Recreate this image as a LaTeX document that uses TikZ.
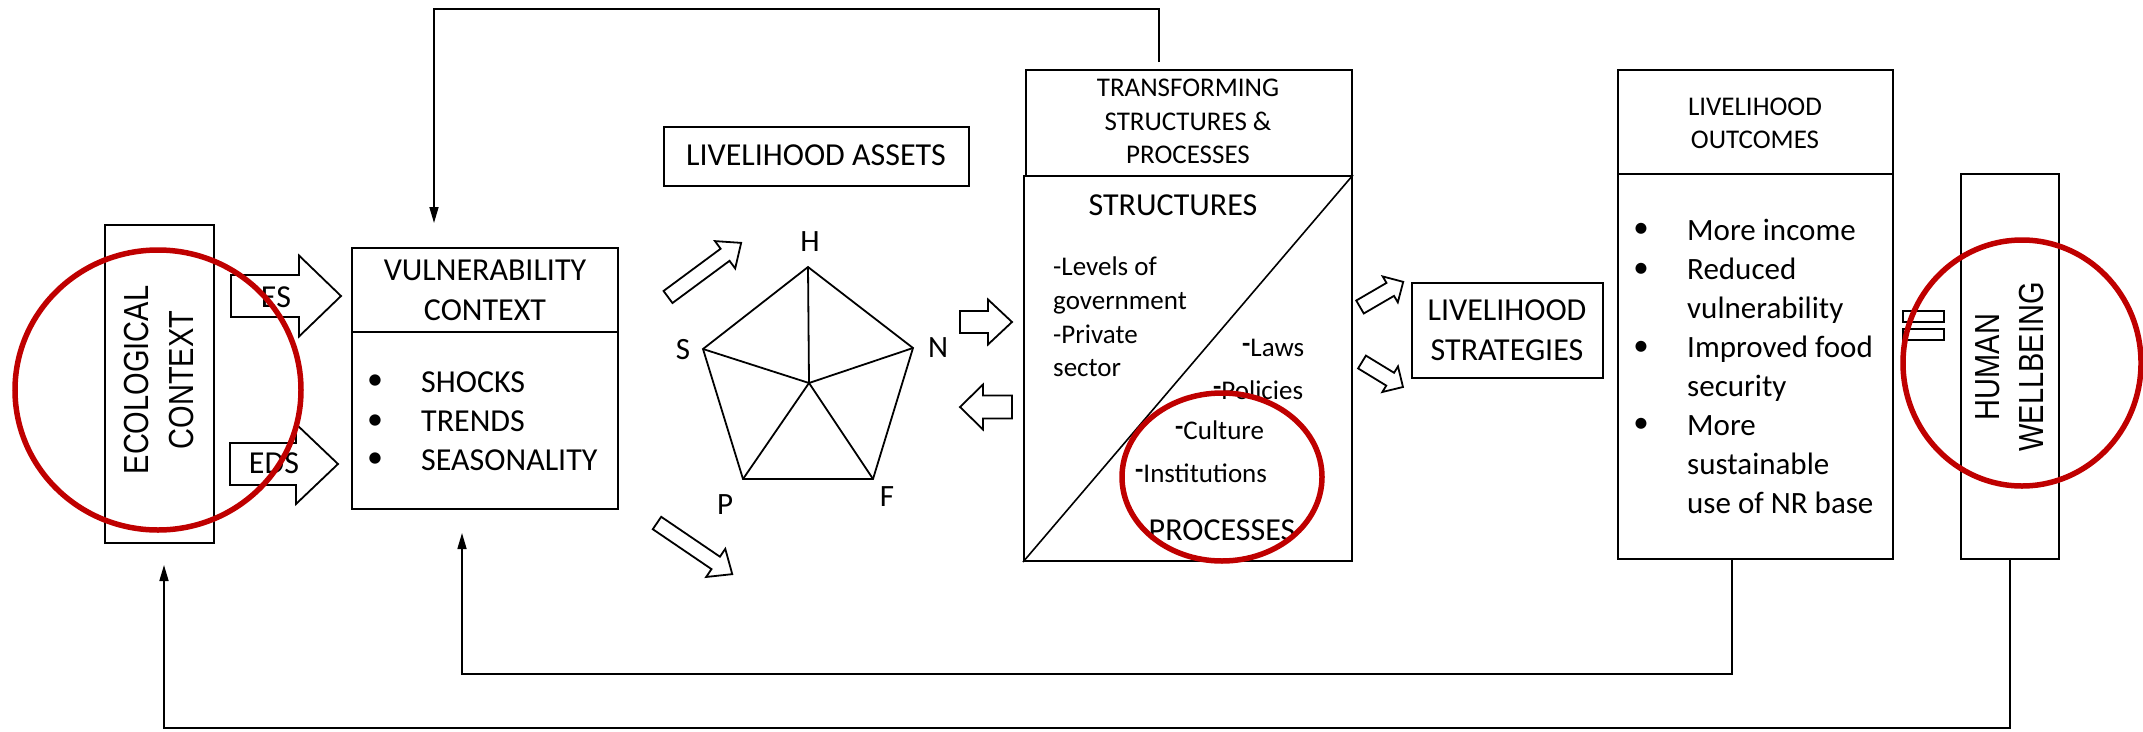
\documentclass[tikz,border=0pt]{standalone}
\usepackage{fontspec}
\setmainfont{Carlito}
\newfontfamily\arialf{Liberation Sans}
\usetikzlibrary{arrows.meta}
\newcommand\fsz[2]{\fontsize{#1}{#2}\selectfont}
\newcommand\hdash{\raisebox{4pt}{\textbf{-}}}
\tikzset{
  box/.style={draw, line width=2pt, inner sep=0pt},
  lbl/.style={inner sep=0pt},
  thinline/.style={line width=1.6pt},
  fb/.style={line width=1.6pt, -{Triangle[length=16pt,width=9pt]}},
  barrow/.style={draw, line width=1.8pt, fill=white, line join=miter},
  redring/.style={draw=red!75!black, line width=5.5pt},
  pics/blockarrow/.style n args={4}{code={
    \path[barrow] (0,-#2)--({#1-#4},-#2)--({#1-#4},-#3)--(#1,0)--({#1-#4},#3)--({#1-#4},#2)--(0,#2)--cycle;}}
}
\begin{document}
\begin{tikzpicture}[x=1pt,y=-1pt]
\useasboundingbox (0,0) rectangle (2143,731);

% boxes
\node[box, minimum width=109pt, minimum height=318pt] (eco) at (159.5,384) {};
\node[box, minimum width=266pt, minimum height=261pt] (vc) at (485,378.5) {};
\draw[line width=2pt] (352,332) -- (618,332);
\node[box, minimum width=305pt, minimum height=59pt] (la) at (816.5,156.5) {};
\node[box, minimum width=326pt, minimum height=106pt] (tspt) at (1189,123) {};
\node[box, minimum width=328pt, minimum height=385pt] (tspb) at (1188,368.5) {};
\draw[thinline] (tspb.south west) -- (tspb.north east);
\node[box, minimum width=191pt, minimum height=95pt] (ls) at (1507.5,330.5) {};
\node[box, minimum width=275pt, minimum height=489pt] (lo) at (1755.5,314.5) {};
\draw[line width=2pt] (1618,174) -- (1893,174);
\node[box, minimum width=98pt, minimum height=385pt] (hw) at (2010,366.5) {};

% texts
\node[lbl, rotate=90, align=center, font=\arialf\fsz{29}{45}] (ecot) at (159.5,380)
  {\scalebox{1}[1.2]{ECOLOGICAL}\\\scalebox{1}[1.2]{CONTEXT}};
\node[lbl, rotate=90, align=center, font=\arialf\fsz{29}{44}] (hwt) at (2010,367)
  {\scalebox{1}[1.2]{HUMAN}\\\scalebox{1}[1.2]{WELLBEING}};
\node[lbl, align=center, font=\fsz{32}{40}] (vct) at (485,290) {VULNERABILITY\\CONTEXT};
\foreach \yy in {382,422,460} \node[lbl, font=\fsz{32}{39}] at (375,\yy) {\textbullet};
\node[lbl, anchor=west, align=left, font=\fsz{32}{39}] (vcl) at (421,421) {SHOCKS\\TRENDS\\SEASONALITY};
\node[lbl, font=\fsz{32}{39}] (lat) at (816,155) {LIVELIHOOD ASSETS};
\node[lbl, align=center, font=\fsz{27}{33.5}] (tspt1) at (1188,121.5) {TRANSFORMING\\STRUCTURES \&\\PROCESSES};
\node[lbl, font=\fsz{32}{39}] (st) at (1173,205) {STRUCTURES};
\node[lbl, font=\fsz{32}{39}] (pr) at (1222,530) {PROCESSES};
\node[lbl, anchor=west, align=left, font=\fsz{27}{33.7}] (stl) at (1053,317) {-Levels of\\government\\-Private\\sector};
\node[lbl, anchor=west, font=\fsz{27}{33}] (p1) at (1242,348) {\hdash Laws};
\node[lbl, anchor=west, font=\fsz{27}{33}] (p2) at (1213,390) {\hdash Policies};
\node[lbl, anchor=west, font=\fsz{27}{33}] (p3) at (1175,430) {\hdash Culture};
\node[lbl, anchor=west, font=\fsz{27}{33}] (p4) at (1135,473) {\hdash Institutions};
\node[lbl, align=center, font=\fsz{32}{40}] (lst) at (1507,330) {LIVELIHOOD\\STRATEGIES};
\node[lbl, align=center, font=\fsz{27}{33}] (lot) at (1755,123.5) {LIVELIHOOD\\OUTCOMES};
\foreach \yy in {230,270,348,425} \node[lbl, font=\fsz{31}{39}] at (1641,\yy) {\textbullet};
\node[lbl, anchor=west, align=left, font=\fsz{31}{39}] (lol) at (1687,366.5)
  {More income\\Reduced\\vulnerability\\Improved food\\security\\More\\sustainable\\use of NR base};

% pentagon
\coordinate (H) at (808,267);
\coordinate (S) at (703,349);
\coordinate (N) at (913,348);
\coordinate (P) at (743,479);
\coordinate (F) at (873,479);
\coordinate (C) at (809,383);
\draw[line width=1.8pt, line join=miter] (H) -- (N) -- (F) -- (P) -- (S) -- cycle;
\foreach \v in {H,S,N,P,F} \draw[line width=1.8pt] (C) -- (\v);
\node[lbl, font=\fsz{31}{39}] (Hl) at (810,242) {H};
\node[lbl, font=\fsz{31}{39}] (Sl) at (683,350) {S};
\node[lbl, font=\fsz{31}{39}] (Nl) at (938,348) {N};
\node[lbl, font=\fsz{31}{39}] (Pl) at (725,505) {P};
\node[lbl, font=\fsz{31}{39}] (Fl) at (887,497) {F};

% block arrows
\pic at (231,296) {blockarrow={110}{21}{40.5}{42}};
\pic at (230,464) {blockarrow={108}{21}{40}{42}};
\node[lbl, font=\fsz{32}{39}] (es) at (276,297) {ES};
\node[lbl, font=\fsz{32}{39}] (eds) at (274,463) {EDS};
\pic[rotate=36.5] at (668,297) {blockarrow={91}{7.5}{17}{20}};
\pic[rotate=-34.2] at (657,523) {blockarrow={91}{7.5}{17}{20}};
\pic at (960,322) {blockarrow={52}{11}{22.5}{24}};
\pic[rotate=180] at (1012,407) {blockarrow={52}{11.5}{22.5}{23}};
\pic[rotate=30.2] at (1360,307) {blockarrow={50}{7.5}{15}{15}};
\pic[rotate=-31.4] at (1362,362) {blockarrow={48}{7.5}{15}{15}};

% small double bar
\draw[line width=1.6pt] (1903,311) rectangle (1944,322);
\draw[line width=1.6pt] (1903,329) rectangle (1944,340);

% feedback loops
\coordinate (t1) at (1159,62);
\coordinate (t2) at (434,223);
\draw[fb] (t1) |- (434,9) -- (t2);
\coordinate (b2) at (462,533);
\draw[fb] (lo.south -| 1732,0) -- (1732,674) -| (b2);
\coordinate (o2) at (164,565);
\draw[fb] (hw.south) -- (2010,728) -| (o2);

% red rings
\draw[redring] (158,390) ellipse [x radius=143, y radius=140];
\draw[redring] (1222,477) ellipse [x radius=100, y radius=84];
\draw[redring] (2022,363) ellipse [x radius=119, y radius=123];
\end{tikzpicture}
\end{document}
